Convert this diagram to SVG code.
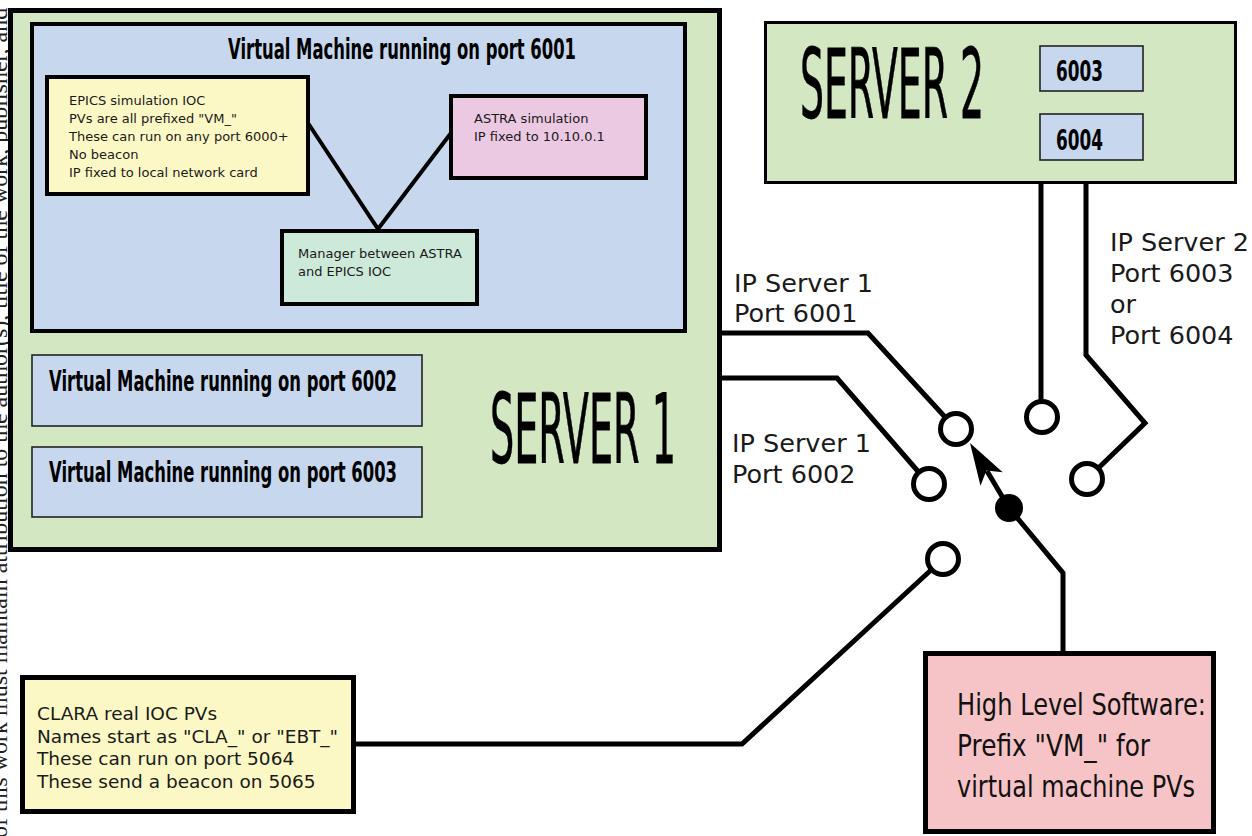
<svg xmlns="http://www.w3.org/2000/svg" width="1252" height="836" viewBox="0 0 1252 836">
  <style>
    .box { stroke: #000; }
    .heavy { stroke-width: 5; }
    .mid { stroke-width: 4; }
    .thin { stroke-width: 1.6; stroke: #222; }
    .green { fill: #d3e7c2; }
    .blue { fill: #c6d7ee; }
    .yellow { fill: #fbf8c6; }
    .lilac { fill: #ecc9e2; }
    .mint { fill: #cde9d9; }
    .rose { fill: #f6c4c7; }
    .vm { font-family: "DejaVu Sans", "Liberation Sans", sans-serif; font-weight: bold; font-size: 28px; fill: #000; }
    .big { font-family: "DejaVu Sans", "Liberation Sans", sans-serif; font-size: 97px; fill: #000; stroke: #000; stroke-width: 0.8; }
    .note { font-family: "DejaVu Sans", "Verdana", sans-serif; fill: #1a1a1a; }
    .ip { font-family: "DejaVu Sans", "Verdana", sans-serif; font-size: 25.5px; fill: #1a1a1a; }
    .hls { font-family: "DejaVu Sans", "Liberation Sans", sans-serif; font-size: 30px; fill: #111; }
    .wire { fill: none; stroke: #000; stroke-width: 5; stroke-linejoin: miter; }
    .link { fill: none; stroke: #000; stroke-width: 4; }
    .port { fill: #fff; stroke: #000; stroke-width: 5; }
    .margin { font-family: "Liberation Serif", "Times New Roman", serif; font-size: 24px; fill: #222; }
  </style>

  <!-- licence line running up the page margin -->
  <text class="margin" transform="translate(7,838) rotate(-90)" x="0" y="0">of this work must maintain attribution to the author(s), title of the work, publisher, and</text>

  <!-- Server 1 with its virtual machines -->
  <g id="server1">
    <rect class="box heavy green" x="10.5" y="10.5" width="709" height="539"/>
    <text class="big" x="490" y="463" textLength="186" lengthAdjust="spacingAndGlyphs">SERVER 1</text>
  </g>

  <g id="vm6001">
    <rect class="box mid blue" x="32" y="24" width="653" height="307"/>
    <text class="vm" x="228" y="59" textLength="348" lengthAdjust="spacingAndGlyphs">Virtual Machine running on port 6001</text>
  </g>

  <g id="epics-ioc">
    <rect class="box mid yellow" x="47" y="77" width="261" height="117"/>
    <text class="note" font-size="13">
      <tspan x="69" y="105">EPICS simulation IOC</tspan>
      <tspan x="69" y="123">PVs are all prefixed "VM_"</tspan>
      <tspan x="69" y="141">These can run on any port 6000+</tspan>
      <tspan x="69" y="159">No beacon</tspan>
      <tspan x="69" y="177">IP fixed to local network card</tspan>
    </text>
  </g>

  <g id="astra">
    <rect class="box mid lilac" x="451" y="96" width="195" height="82"/>
    <text class="note" font-size="13">
      <tspan x="474" y="123">ASTRA simulation</tspan>
      <tspan x="474" y="141">IP fixed to 10.10.0.1</tspan>
    </text>
  </g>

  <g id="manager">
    <rect class="box mid mint" x="282" y="231" width="195" height="73"/>
    <text class="note" font-size="13">
      <tspan x="298" y="258">Manager between ASTRA</tspan>
      <tspan x="298" y="276">and EPICS IOC</tspan>
    </text>
  </g>

  <g id="vm6002">
    <rect class="box thin blue" x="32" y="355" width="390" height="71"/>
    <text class="vm" x="49" y="391" textLength="348" lengthAdjust="spacingAndGlyphs">Virtual Machine running on port 6002</text>
  </g>

  <g id="vm6003">
    <rect class="box thin blue" x="32" y="447" width="390" height="70"/>
    <text class="vm" x="49" y="482" textLength="348" lengthAdjust="spacingAndGlyphs">Virtual Machine running on port 6003</text>
  </g>

  <!-- Server 2 and its two ports -->
  <g id="server2">
    <rect class="box green" stroke-width="3" x="765.5" y="22.5" width="470" height="160"/>
    <text class="big" x="800" y="118" textLength="184" lengthAdjust="spacingAndGlyphs">SERVER 2</text>
  </g>

  <g id="port6003">
    <rect class="box thin blue" x="1040" y="46" width="103" height="45"/>
    <text class="vm" x="1056" y="81" textLength="47" lengthAdjust="spacingAndGlyphs">6003</text>
  </g>

  <g id="port6004">
    <rect class="box thin blue" x="1040" y="114" width="103" height="46"/>
    <text class="vm" x="1056" y="150" textLength="47" lengthAdjust="spacingAndGlyphs">6004</text>
  </g>

  <!-- real IOCs on the control network -->
  <g id="clara">
    <rect class="box heavy yellow" x="22.5" y="677.5" width="331" height="134"/>
    <text class="note" font-size="18.5">
      <tspan x="37" y="720">CLARA real IOC PVs</tspan>
      <tspan x="37" y="743">Names start as "CLA_" or "EBT_"</tspan>
      <tspan x="37" y="765">These can run on port 5064</tspan>
      <tspan x="37" y="788">These send a beacon on 5065</tspan>
    </text>
  </g>

  <g id="high-level-software">
    <rect class="box heavy rose" x="925.5" y="653.5" width="288" height="178"/>
    <text class="hls">
      <tspan x="957" y="715" textLength="249" lengthAdjust="spacingAndGlyphs">High Level Software:</tspan>
      <tspan x="957" y="756" textLength="193" lengthAdjust="spacingAndGlyphs">Prefix "VM_" for</tspan>
      <tspan x="957" y="797" textLength="238" lengthAdjust="spacingAndGlyphs">virtual machine PVs</tspan>
    </text>
  </g>

  <!-- connection labels -->
  <g id="labels">
    <text class="ip"><tspan x="734" y="292">IP Server 1</tspan><tspan x="734" y="322">Port 6001</tspan></text>
    <text class="ip"><tspan x="732" y="452">IP Server 1</tspan><tspan x="732" y="483">Port 6002</tspan></text>
    <text class="ip"><tspan x="1110" y="251">IP Server 2</tspan><tspan x="1110" y="282">Port 6003</tspan><tspan x="1110" y="313">or</tspan><tspan x="1110" y="344">Port 6004</tspan></text>
  </g>

  <!-- connectors -->
  <g id="connectors">
    <path class="link" d="M308,123 L378,229 L451,133"/>
    <path class="wire" d="M720,333 H868 L956,429"/>
    <path class="wire" d="M720,378 H837 L929,484"/>
    <path class="wire" d="M1041,183 V417"/>
    <path class="wire" d="M1086,183 V355 L1145,423 L1087,479"/>
    <path class="wire" d="M355,744 H742 L943,559"/>
    <path class="wire" d="M1063,652 V573 L1009,508 L987,471"/>
    <circle class="port" cx="956" cy="429" r="15.5"/>
    <circle class="port" cx="929" cy="484" r="15.5"/>
    <circle class="port" cx="943" cy="559" r="15.5"/>
    <circle class="port" cx="1042" cy="417" r="15.5"/>
    <circle class="port" cx="1087" cy="479" r="15.5"/>
    <polygon points="970,443 980.5,485.7 986.4,470.4 1002.7,472.3" fill="#000"/>
    <circle cx="1009" cy="508" r="14" fill="#000"/>
  </g>
</svg>
